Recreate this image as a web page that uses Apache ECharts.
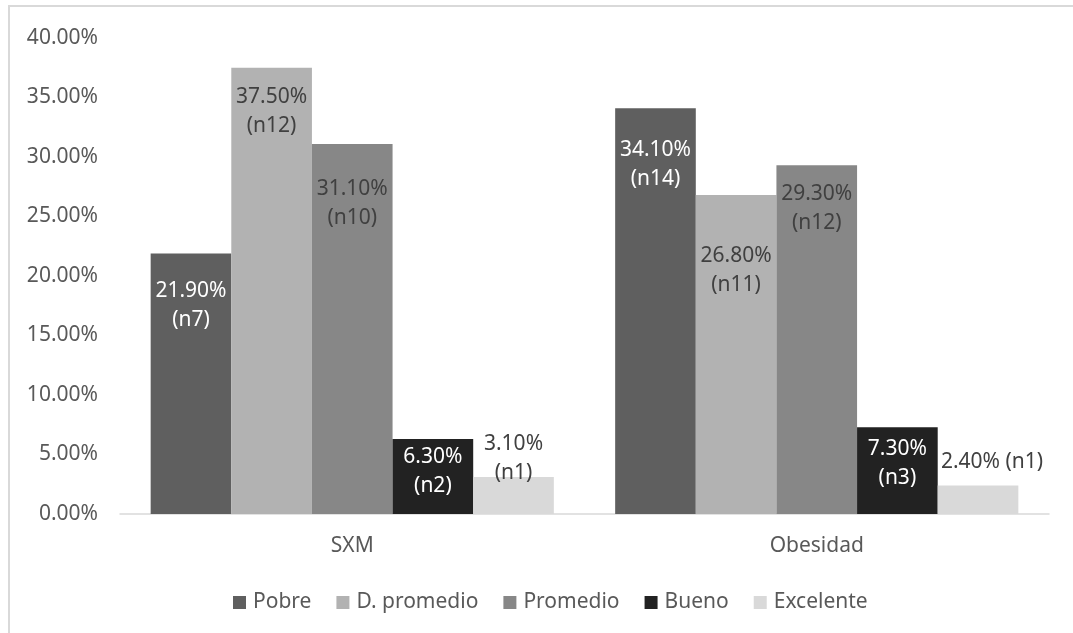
<!DOCTYPE html>
<html>
<head>
<meta charset="utf-8">
<title>SXM / Obesidad</title>
<script src="https://cdn.jsdelivr.net/npm/echarts@6/dist/echarts.min.js"></script>
<style>
  html, body { margin: 0; padding: 0; background: #ffffff; }
  #chart { width: 1073px; height: 633px; }
</style>
</head>
<body>
<div id="chart"></div>
<script>
// Categories and groups
const categories = ['SXM', 'Obesidad'];
const seriesNames = ['Pobre', 'D. promedio', 'Promedio', 'Bueno', 'Excelente'];

// Percentages per group (SXM, Obesidad)
const pobre = [21.9, 34.1];
const dPromedio = [37.5, 26.8];
const promedio = [31.1, 29.3];
const bueno = [6.3, 7.3];
const excelente = [3.1, 2.4];

// Counts per group (n)
const pobreN = [7, 14];
const dPromedioN = [12, 11];
const promedioN = [10, 12];
const buenoN = [2, 3];
const excelenteN = [1, 1];

// Y axis ticks (percent)
const yTicks = [0, 5, 10, 15, 20, 25, 30, 35, 40];

const colors = ['#5f5f5f', '#b2b2b2', '#878787', '#222222', '#d9d9d9'];
const labelColors = ['#ffffff', '#404040', '#404040', '#ffffff', '#404040'];
const FONT = 'Noto Sans';
const FS = 21;

const values = [pobre, dPromedio, promedio, bueno, excelente];
const counts = [pobreN, dPromedioN, promedioN, buenoN, excelenteN];

// Label nudges inside each bar (px below the bar top)
const insideDist = [
  [23, 27],
  [15, 46],
  [31, 14],
  [3, 7]
];

function pct(v) { return v.toFixed(2) + '%'; }

const series = seriesNames.map(function (name, s) {
  const data = values[s].map(function (v, i) {
    const n = counts[s][i];
    const item = { value: v };
    if (s < 4) {
      item.label = {
        position: 'insideTop',
        distance: insideDist[s][i],
        formatter: pct(v) + '\n(n' + n + ')'
      };
    } else if (i === 0) {
      item.label = {
        position: 'top',
        distance: -10,
        formatter: pct(v) + '\n(n' + n + ')'
      };
    } else {
      item.label = {
        position: 'top',
        distance: 9,
        offset: [14, 0],
        formatter: pct(v) + ' (n' + n + ')'
      };
    }
    return item;
  });
  return {
    name: name,
    type: 'bar',
    data: data,
    barGap: '0%',
    barCategoryGap: '13.2%',
    itemStyle: { color: colors[s] },
    label: {
      show: true,
      color: labelColors[s],
      fontFamily: FONT,
      fontSize: FS,
      lineHeight: 29,
      align: 'center'
    },
    emphasis: { disabled: true }
  };
});

const chart = echarts.init(document.getElementById('chart'), null, { renderer: 'canvas' });
chart.setOption({
  animation: false,
  color: colors,
  textStyle: { fontFamily: FONT },
  graphic: [{
    type: 'rect',
    silent: true,
    shape: { x: 9, y: 6, width: 1100, height: 700 },
    style: { fill: 'none', stroke: '#d9d9d9', lineWidth: 2 }
  }],
  grid: { left: 120, right: 24, top: 38, bottom: 119 },
  legend: {
    data: seriesNames,
    left: 233,
    top: 592,
    padding: 0,
    itemWidth: 13,
    itemHeight: 13,
    itemGap: 25,
    icon: 'rect',
    textStyle: { color: '#595959', fontFamily: FONT, fontSize: FS, padding: [0, 0, 0, 2] }
  },
  xAxis: {
    type: 'category',
    data: categories,
    axisLine: { lineStyle: { color: '#d9d9d9', width: 1.5 } },
    axisTick: { show: false },
    axisLabel: { color: '#595959', fontFamily: FONT, fontSize: FS, margin: 22 }
  },
  yAxis: {
    type: 'value',
    min: yTicks[0],
    max: yTicks[yTicks.length - 1],
    interval: yTicks[1] - yTicks[0],
    axisLine: { show: false },
    axisTick: { show: false },
    splitLine: { show: false },
    axisLabel: {
      color: '#595959',
      fontFamily: FONT,
      fontSize: FS,
      margin: 22,
      formatter: function (v) { return pct(v); }
    }
  },
  series: series
});
</script>
</body>
</html>
